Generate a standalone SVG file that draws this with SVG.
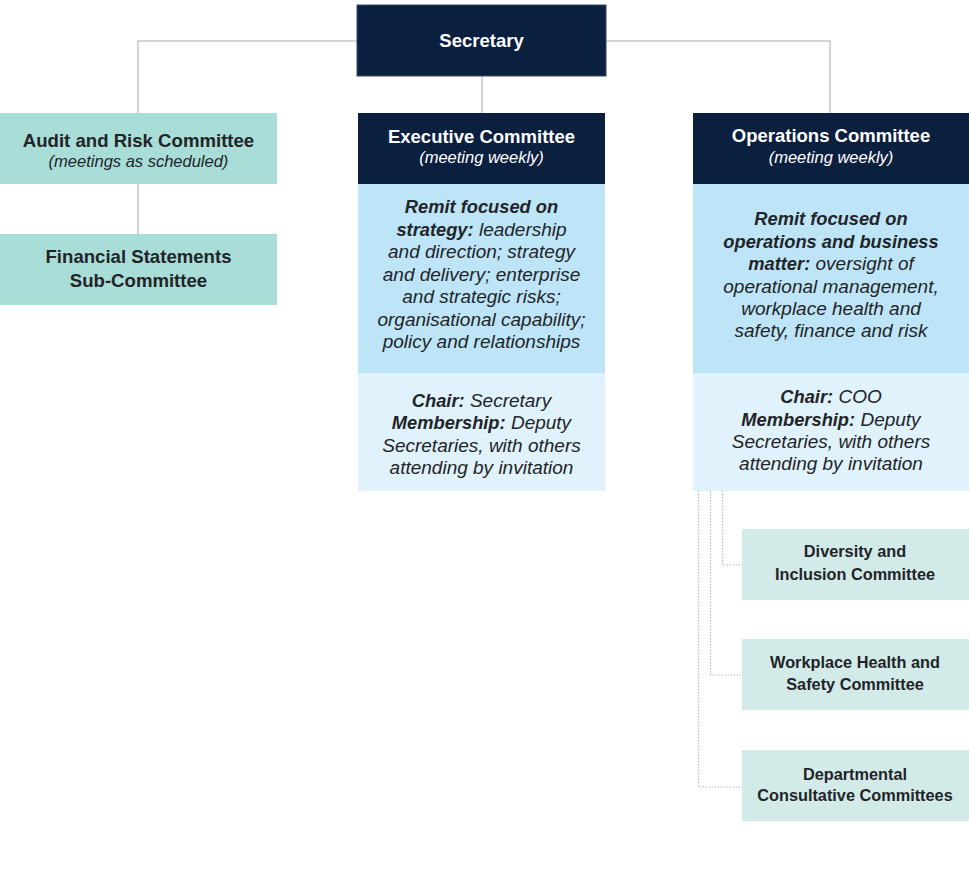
<svg xmlns="http://www.w3.org/2000/svg" width="969" height="874" viewBox="0 0 969 874">
<style>
text{font-family:"Liberation Sans",Arial,sans-serif;text-anchor:middle;fill:#222428}
.w{fill:#ffffff}
.t{font-weight:700;font-size:18.5px}
.tt{font-weight:700;font-size:18.6px}
.s{font-style:italic;font-size:16.5px}
.b{font-size:19px}
.it{font-style:italic;font-weight:400;font-size:19px}
.bi{font-weight:700;font-style:italic;font-size:18.3px}
.st{font-weight:700;font-size:16.3px}
.navy{fill:#0b1f3f}
.teal{fill:#a9ddd8}
.pale{fill:#d3ebe8}
.blue{fill:#bde5f7}
.lblue{fill:#e0f2fb}
.con{fill:none;stroke:#c6c6c6;stroke-width:1.5}
.dot{fill:none;stroke:#b9b9b9;stroke-width:1.2;stroke-dasharray:1.5 1.5}
</style>
<g id="connectors">
<path class="con" d="M357 41H138V113M606 41H830V113M482 76V113M138 184V234"/>
<path class="dot" d="M722.5 491V565H742M710.5 491V675H742M698.5 491V787H742"/>
</g>
<g id="secretary">
<rect class="navy" x="357" y="5" width="249" height="71" stroke="#3a4a66" stroke-width="1"/>
<text class="t w" x="481.5" y="47">Secretary</text>
</g>
<g id="audit">
<rect class="teal" x="0" y="113" width="277" height="71"/>
<text class="tt" x="138.5" y="147">Audit and Risk Committee</text>
<text class="s" x="138.5" y="167">(meetings as scheduled)</text>
</g>
<g id="financial">
<rect class="teal" x="0" y="234" width="277" height="71"/>
<text class="tt" x="138.5" y="263">Financial Statements</text>
<text class="tt" x="138.5" y="287">Sub-Committee</text>
</g>
<g id="executive">
<rect class="navy" x="358" y="113" width="247" height="71"/>
<text class="t w" x="481.5" y="143">Executive Committee</text>
<text class="s w" x="481.5" y="163">(meeting weekly)</text>
<rect class="blue" x="358" y="184" width="247" height="189"/>
<text class="b" x="481.5" y="213"><tspan class="bi">Remit focused on</tspan></text>
<text class="b" x="481.5" y="236"><tspan class="bi">strategy:</tspan><tspan class="it"> leadership</tspan></text>
<text class="b it" x="481.5" y="258">and direction; strategy</text>
<text class="b it" x="481.5" y="281">and delivery; enterprise</text>
<text class="b it" x="481.5" y="303">and strategic risks;</text>
<text class="b it" x="481.5" y="326">organisational capability;</text>
<text class="b it" x="481.5" y="348">policy and relationships</text>
<rect class="lblue" x="358" y="373" width="247" height="118"/>
<text class="b" x="481.5" y="407"><tspan class="bi">Chair:</tspan><tspan class="it"> Secretary</tspan></text>
<text class="b" x="481.5" y="429"><tspan class="bi">Membership:</tspan><tspan class="it"> Deputy</tspan></text>
<text class="b it" x="481.5" y="452">Secretaries, with others</text>
<text class="b it" x="481.5" y="474">attending by invitation</text>
</g>
<g id="operations">
<rect class="navy" x="693" y="113" width="276" height="71"/>
<text class="t w" x="831" y="142">Operations Committee</text>
<text class="s w" x="831" y="163">(meeting weekly)</text>
<rect class="blue" x="693" y="184" width="276" height="189"/>
<text class="b" x="831" y="225"><tspan class="bi">Remit focused on</tspan></text>
<text class="b" x="831" y="248"><tspan class="bi">operations and business</tspan></text>
<text class="b" x="831" y="270"><tspan class="bi">matter:</tspan><tspan class="it"> oversight of</tspan></text>
<text class="b it" x="831" y="293">operational management,</text>
<text class="b it" x="831" y="315">workplace health and</text>
<text class="b it" x="831" y="337">safety, finance and risk</text>
<rect class="lblue" x="693" y="373" width="276" height="118"/>
<text class="b" x="831" y="403"><tspan class="bi">Chair:</tspan><tspan class="it"> COO</tspan></text>
<text class="b" x="831" y="426"><tspan class="bi">Membership:</tspan><tspan class="it"> Deputy</tspan></text>
<text class="b it" x="831" y="448">Secretaries, with others</text>
<text class="b it" x="831" y="470">attending by invitation</text>
</g>
<g id="diversity">
<rect class="pale" x="742" y="529" width="227" height="71"/>
<text class="st" x="855" y="557">Diversity and</text>
<text class="st" x="855" y="580">Inclusion Committee</text>
</g>
<g id="whs">
<rect class="pale" x="742" y="639" width="227" height="71"/>
<text class="st" x="855" y="668">Workplace Health and</text>
<text class="st" x="855" y="690">Safety Committee</text>
</g>
<g id="dcc">
<rect class="pale" x="742" y="750" width="227" height="71"/>
<text class="st" x="855" y="780">Departmental</text>
<text class="st" x="855" y="801">Consultative Committees</text>
</g>
</svg>
